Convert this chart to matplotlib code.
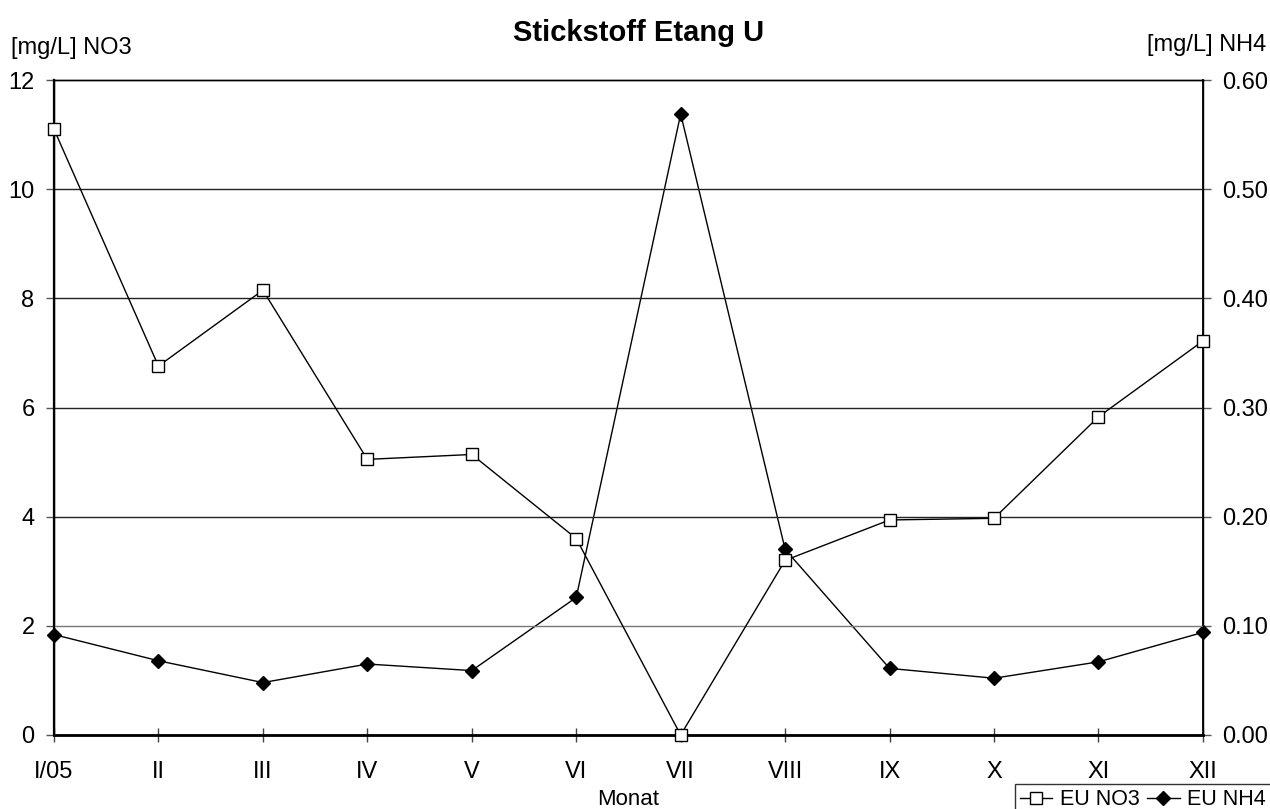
import matplotlib
matplotlib.use('Agg')
import matplotlib.pyplot as plt

plt.rcParams['font.family'] = ['Liberation Sans', 'DejaVu Sans']

# Daten
monate = ['I/05', 'II', 'III', 'IV', 'V', 'VI', 'VII', 'VIII', 'IX', 'X', 'XI', 'XII']
no3 = [11.1, 6.76, 8.15, 5.05, 5.14, 3.6, 0.0, 3.2, 3.94, 3.97, 5.83, 7.22]
nh4 = [0.092, 0.068, 0.048, 0.065, 0.059, 0.126, 0.569, 0.170, 0.061, 0.052, 0.067, 0.094]

fig = plt.figure(figsize=(12.7, 8.09), dpi=100)
ax = fig.add_axes([0.0425, 0.0915, 0.9047, 0.8095])
ax2 = ax.twinx()

x = list(range(len(monate)))

# Gitterlinien
for v in [4, 6, 8, 10]:
    ax.axhline(v, color='#222222', linewidth=1, zorder=1)
ax.axhline(2, color='#777777', linewidth=1, zorder=1)

l1, = ax.plot(x, no3, color='black', linewidth=1, marker='s', markersize=8.5,
              markerfacecolor='white', markeredgecolor='black', markeredgewidth=1,
              zorder=4, clip_on=False)
l2, = ax2.plot(x, nh4, color='black', linewidth=1, marker='D', markersize=7,
               markerfacecolor='black', markeredgecolor='black',
               zorder=3, clip_on=False)
ax.set_zorder(ax2.get_zorder() + 1)
ax.patch.set_visible(False)

ax.set_xlim(0, 11)
ax.set_ylim(0, 12)
ax2.set_ylim(0, 0.6)
ax.set_yticks([0, 2, 4, 6, 8, 10, 12])
ax2.set_yticks([0, 0.1, 0.2, 0.3, 0.4, 0.5, 0.6])
ax2.set_yticklabels(['%.2f' % v for v in [0, 0.1, 0.2, 0.3, 0.4, 0.5, 0.6]])
ax.set_xticks(x)
ax.set_xticklabels(monate)

ax.tick_params(axis='x', direction='inout', length=10, width=1, labelsize=17, pad=14,
               color='#444444')
ax.tick_params(axis='y', direction='out', length=6, width=1, labelsize=17, pad=8,
               color='#555555')
ax2.tick_params(axis='y', direction='out', length=6, width=1, labelsize=17, pad=8,
                color='#555555')

for a in (ax, ax2):
    for s in a.spines.values():
        s.set_color('black')
        s.set_linewidth(1)
ax.spines['bottom'].set_linewidth(2)
ax.spines['left'].set_linewidth(1.6)
ax2.spines['right'].set_linewidth(1.3)

ax.set_xlabel('Monat', fontsize=16, labelpad=4)

fig.text(0.009, 0.941, '[mg/L] NO3', fontsize=17, ha='left', va='center')
fig.text(0.997, 0.944, '[mg/L] NH4', fontsize=17, ha='right', va='center')
fig.suptitle('Stickstoff Etang U', fontsize=21, fontweight='bold', x=0.503, y=0.977)

leg = fig.legend([l1, l2], ['EU NO3', 'EU NH4'], loc='upper left',
                 bbox_to_anchor=(0.799, 0.031), ncol=2, fontsize=15.5, frameon=True,
                 fancybox=False, handlelength=1.5, handletextpad=0.33,
                 columnspacing=0.37, borderpad=0.25, borderaxespad=0.0)
leg.get_frame().set_edgecolor('black')
leg.get_frame().set_linewidth(1)

plt.savefig('out.png', dpi=100)
